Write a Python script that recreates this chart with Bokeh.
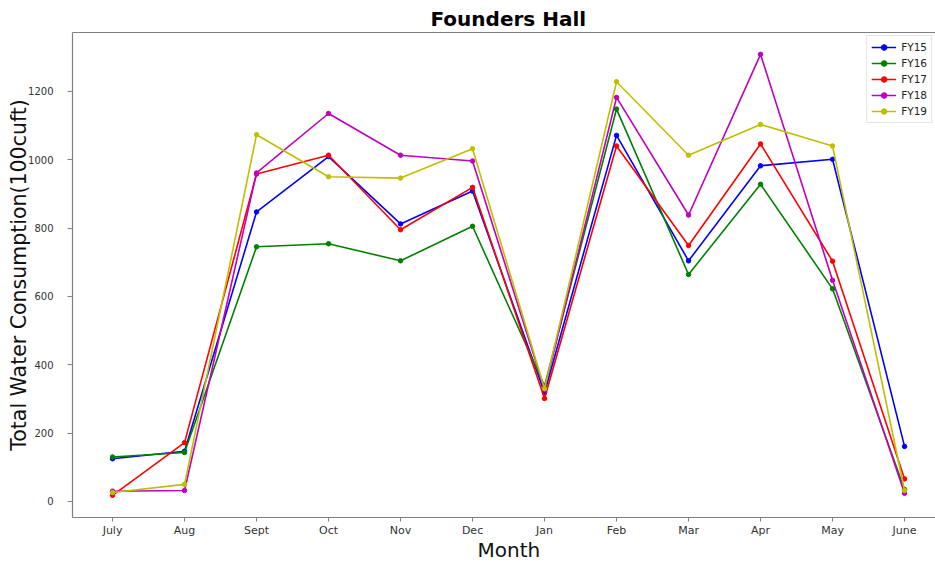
from bokeh.plotting import figure
from bokeh.models import Range1d, FixedTicker, Legend, LegendItem, LinearAxis, Title
from bokeh.embed import file_html
from bokeh.resources import INLINE

months = ["July", "Aug", "Sept", "Oct", "Nov", "Dec", "Jan", "Feb", "Mar", "Apr", "May", "June"]
fy15 = [125, 147, 847, 1009, 812, 908, 318, 1071, 704, 982, 1001, 161]
fy16 = [130, 143, 745, 754, 704, 805, 338, 1148, 664, 928, 622, 35]
fy17 = [18, 172, 958, 1013, 795, 919, 301, 1040, 749, 1046, 703, 66]
fy18 = [30, 32, 961, 1135, 1013, 996, 328, 1182, 838, 1308, 647, 24]
fy19 = [26, 50, 1073, 950, 946, 1032, 330, 1228, 1013, 1103, 1040, 32]
series = [("FY15", fy15, "#0000ff"), ("FY16", fy16, "#008000"), ("FY17", fy17, "#ff0000"),
          ("FY18", fy18, "#bf00bf"), ("FY19", fy19, "#bfbf00")]
y_ticks = [0, 200, 400, 600, 800, 1000, 1200]

FONT = "DejaVu Sans"
SPINE = "#808080"
x = list(range(len(months)))

p = figure(width=935, height=562, output_backend="svg", toolbar_location=None,
           x_range=Range1d(-0.556, 11.43), y_range=Range1d(-47, 1372),
           min_border_left=72, min_border_right=0,
           min_border_top=32, min_border_bottom=45)

p.xgrid.visible = False
p.ygrid.visible = False
p.outline_line_color = None
p.background_fill_color = "white"
p.border_fill_color = "white"

xaxis = p.below[0]
yaxis = p.left[0]

# top spine
top = LinearAxis(ticker=FixedTicker(ticks=[]), axis_line_color=SPINE, axis_line_width=1.2,
                 major_tick_line_color=None, minor_tick_line_color=None)
p.add_layout(top, "above")

title = Title(text="Founders Hall", align="left", text_font=FONT, text_font_size="20px",
              text_font_style="bold", text_color="#000000", standoff=3, offset=358)
p.add_layout(title, "above")

items = []
for name, vals, col in series:
    r1 = p.line(x, vals, line_color=col, line_width=1.6)
    r2 = p.scatter(x, vals, marker="circle", size=4.5, fill_color=col, line_color=col)
    items.append(LegendItem(label=name, renderers=[r1, r2]))

legend = Legend(items=items, location="top_right")
legend.label_text_font = FONT
legend.label_text_font_size = "10.5px"
legend.label_text_color = "#222222"
legend.glyph_width = 25
legend.glyph_height = 14
legend.spacing = 2
legend.padding = 4
legend.margin = 3
legend.label_standoff = 5
legend.border_line_color = "#cccccc"
legend.border_line_width = 1
legend.background_fill_alpha = 1
p.add_layout(legend)

xaxis.ticker = FixedTicker(ticks=x)
xaxis.major_label_overrides = {i: m for i, m in enumerate(months)}
yaxis.ticker = FixedTicker(ticks=y_ticks)

for ax in (xaxis, yaxis):
    ax.axis_line_color = SPINE
    ax.axis_line_width = 1.2
    ax.major_tick_line_color = SPINE
    ax.major_tick_in = 0
    ax.minor_tick_line_color = None
    ax.major_label_text_font = FONT
    ax.major_label_text_color = "#333333"
    ax.axis_label_text_font = FONT
    ax.axis_label_text_font_style = "normal"
    ax.axis_label_text_color = "#111111"

xaxis.major_tick_out = 4
xaxis.major_label_text_font_size = "11px"
xaxis.major_label_standoff = 2
yaxis.major_tick_out = 5
yaxis.major_label_text_font_size = "10px"
yaxis.axis_label = "Total Water Consumption(100cuft)"
yaxis.axis_label_text_font_size = "20.5px"
yaxis.major_label_standoff = 14
yaxis.axis_label_standoff = -6

xlabel = Title(text="Month", align="left", text_font=FONT, text_font_size="20px",
               text_font_style="normal", text_color="#111111", standoff=-7, offset=405)
p.add_layout(xlabel, "below")

open("out.html", "w").write(file_html(p, INLINE))
